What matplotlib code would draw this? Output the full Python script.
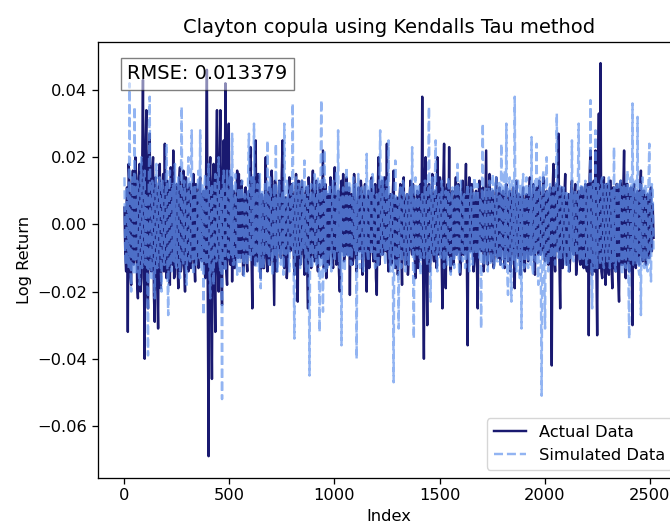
import numpy as np
import matplotlib
matplotlib.use("Agg")
import matplotlib.pyplot as plt

# ---- data (log returns in per-mille, one reading every ~4 days) ----
n_days = 2520
rmse_value = 0.013379

actual_permille = [
    5, -9, -14, 11, -32, 18, 12, -15, -18, 8, 16, -12, -10, 20, 14, -17, -22, 13, 18, -20, -16, 15, 43, -11, -40, 22, 34, -18, -25, 19,
    27, -13, -14, 16, 20, -21, -29, 14, 10, -16, -31, 12, 18, -19, -12, 10, 15, -14, 24, -11, -16, 13, 10, -15, -18, 17, 14, -12, 22, -16,
    -15, 11, 12, -10, -19, 13, 17, -14, -12, 9, 16, -12, -20, 14, 10, -11, -14, 12, 12, -13, -10, 9, 15, -11, -17, 12, 9, -10, -13, 11,
    14, -10, -11, 9, 10, -12, -16, 13, 46, -18, -69, 15, 20, -16, -46, 12, 18, -14, -32, 16, 34, -12, -20, 18, 34, -15, -24, 14, 25, -13,
    42, -14, -18, 12, 30, -10, -12, 14, -17, 8, 10, -13, -12, 7, 16, -10, 15, -8, -10, 13, 9, -15, -12, 8, 11, -10, -14, 8, 10, -9,
    23, -8, -25, 14, 9, -12, 25, -9, -11, 15, 12, -10, -16, 9, 8, -13, -13, 7, 20, -9, -14, 8, 11, -12, -8, 16, 10, -8, -24, 13,
    11, -14, -8, 7, 13, -8, -10, 15, 25, -7, -13, 8, 8, -16, -11, 7, 14, -8, -7, 12, 9, -7, -15, 8, 15, -9, -23, 13, 10, -12,
    -9, 13, 8, -8, -15, 9, 11, -7, -25, 14, 9, -9, -13, 7, 16, -8, -11, 9, 13, -7, -14, 8, 12, -9, -10, 7, 22, -13, -9, 12,
    -16, 8, 9, -12, -8, 14, 11, -8, -13, 7, 17, -9, -12, 8, 10, -14, -20, 9, 13, -8, 15, -11, -9, 8, 14, -9, -8, 11, -21, 8,
    9, -12, -10, 15, 8, -9, -14, 7, 11, -8, -8, 13, 10, -15, -9, 8, 12, -9, -20, 7, 10, -13, -8, 9, 14, -7, -11, 8, 12, -16,
    -21, 8, 20, -12, -9, 8, 13, -9, -8, 14, 11, -8, 24, -9, -14, 8, 9, -12, -11, 9, 16, -8, -13, 7, 8, -15, -10, 8, 12, -7,
    -18, 9, 14, -8, -12, 7, 9, -15, -10, 8, 13, -7, -9, 12, 8, -9, -16, 7, 10, -13, -9, 9, 12, -10, 38, -12, -40, 14, 20, -11,
    -30, 10, 12, -14, -10, 8, 15, -8, -11, 9, 10, -13, 20, -8, -9, 14, 11, -9, -25, 12, 24, -11, -19, 10, 12, -9, 23, -10, -14, 9,
    10, -12, -9, 7, 14, -9, -8, 12, 9, -15, -11, 8, 13, -9, -9, 7, 18, -10, -36, 9, 14, -8, -8, 12, 9, -14, -11, 8, 10, -12,
    -25, 8, 13, -7, -8, 9, 11, -14, -10, 7, 22, -9, -12, 8, 15, -7, -11, 9, 10, -13, -9, 7, 14, -9, -10, 8, 11, -12, -9, 8,
    10, -7, -13, 9, 12, -8, -11, 7, 10, -14, -9, 8, 11, -8, -19, 7, 13, -8, -10, 9, 8, -15, -9, 8, 11, -9, -14, 7, 9, -8,
    -11, 8, 14, -9, -9, 7, 12, -8, -15, 9, 11, -7, -9, 13, 10, -9, -8, 7, 14, -8, -11, 9, 10, -10, -12, 9, 11, -12, -42, 10,
    18, -9, -14, 11, 12, -8, 27, -10, -25, 9, 11, -13, -9, 8, 15, -10, -12, 8, 9, -14, -10, 10, 13, -8, -9, 9, 12, -15, -11, 9,
    10, -10, -12, 11, 11, -12, -13, 10, 12, -13, -14, 12, -33, 14, 22, -12, -15, 11, 13, -14, 22, -12, -33, 15, 33, -13, 48, -14, -16, 12,
    14, -13, -18, 12, 12, -14, -15, 13, 13, -12, -19, 11, 11, -13, -14, 12, 12, -16, -23, 11, 13, -12, -12, 10, 22, -13, -16, 12, 12, -11,
    -14, 10, 11, -12, -30, 11, 12, -10, -13, 9, 10, -11, -12, 10, 16, -9, -11, 10, 10, -9, -12, 8, 9, -10, -10, 9, 11, -8, 6, -4,
]

simulated_permille = [
    14, -10, -12, 11, 8, -13, 42, -12, -20, 14, 10, -15, 35, -11, -15, 13, 12, -14, -18, 12, 20, -13, -10, 14, 16, -12, 9, -13, -39, 12,
    38, -12, -16, 13, 12, -14, -22, 11, 18, -13, -10, 12, 14, -11, -20, 13, 9, -12, -12, 10, 24, -12, -27, 11, 16, -13, -14, 12, 12, -11,
    18, -12, -13, 11, 14, -12, -16, 10, 35, -11, -12, 13, 10, -12, -18, 11, 20, -10, -11, 12, 28, -11, -15, 10, 12, -12, -9, 11, 16, -10,
    28, -11, -14, 12, -27, 11, 15, -12, -12, 10, 18, -13, -22, 11, 12, -12, -18, 10, 15, -11, -10, 12, 20, -11, -14, 10, -52, 12, 16, -10,
    -14, 9, 16, -8, -10, 13, 16, -9, 27, -12, -12, 9, 15, -10, -15, 8, 11, -14, -8, 12, 13, -8, -16, 9, 8, -12, -12, 14, 27, -9,
    -11, 14, 13, -9, 30, -8, -13, 7, 12, -9, -14, 15, -19, 9, 10, -13, -8, 12, 11, -9, 25, -8, -12, 14, 9, -7, -15, 8, 12, -9,
    24, -8, -14, 9, 13, -7, -12, 8, 10, -15, 30, -8, -9, 13, 11, -8, -14, 9, 12, -7, 36, -9, -34, 8, 14, -9, -9, 12, 12, -13,
    -11, 13, 9, -7, 19, -8, -14, 9, 12, -9, -45, 8, 12, -13, -9, 8, 15, -9, -12, 7, 14, -8, -32, 9, 37, -8, -26, 9, 22, -14,
    10, -13, -9, 7, 12, -9, -14, 8, 13, -7, -11, 9, 16, -8, 28, -9, -13, 8, -36, 7, 11, -9, -14, 7, 17, -8, -10, 13, 9, -12,
    -12, 9, 14, -8, -8, 12, -40, 8, 15, -9, -13, 8, 11, -7, -14, 9, 12, -8, 21, -9, -11, 8, 13, -7, -9, 15, 12, -8, -13, 7,
    9, -13, -11, 9, 28, -9, -9, 14, 10, -7, -12, 9, 13, -8, 25, -9, -14, 7, 9, -8, -47, 9, 19, -8, -12, 7, -31, 9, 11, -13,
    -9, 13, 12, -9, -14, 7, 9, -8, -12, 9, 11, -7, 23, -9, -34, 8, 14, -7, -9, 12, 12, -9, -15, 8, 9, -7, -10, 13, 13, -8,
    -12, 9, 35, -8, -23, 9, 14, -8, -9, 12, 25, -9, -14, 8, 9, -7, -10, 13, 12, -8, -13, 7, 10, -9, -12, 14, 9, -7, -15, 8,
    11, -8, -13, 7, 12, -9, 18, -7, -15, 8, 13, -9, -11, 8, 9, -13, -10, 9, 12, -8, -14, 7, 11, -9, -12, 8, 14, -7, -9, 12,
    12, -9, -10, 8, -31, 9, 30, -11, -12, 10, 11, -12, -14, 11, 13, -12, -10, 11, 15, -13, -12, 12, 14, -11, -11, 13, 12, -12, 24, -11,
    -13, 12, 16, -12, 30, -13, -21, 11, 14, -12, -23, 13, 12, -11, 38, -12, -14, 13, 13, -14, -16, 12, -31, 11, 15, -13, -12, 12, 14, -12,
    -13, 11, 12, -12, 26, -13, -15, 12, 13, -11, 24, -12, -18, 13, 14, -14, -51, 12, 16, -13, -31, 11, 20, -12, -14, 11, 12, -10, -10, 9,
    11, -9, -12, 10, 33, -9, -10, 8, 12, -10, -9, 9, 11, -8, -12, 10, 10, -9, -14, 8, 9, -10, 25, -9, -11, 8, 10, -9, -9, 10,
    30, -10, -11, 12, 12, -11, -10, 10, 13, -12, -12, 11, 11, -10, 37, -11, -25, 12, 12, -13, 28, -11, -13, 12, 11, -10, -12, 13, 14, -11,
    -13, 11, 12, -10, -11, 12, 14, -13, -12, 10, 10, -11, 23, -12, -14, 11, 12, -10, -11, 12, 13, -14, -15, 11, 12, -12, -13, 13, 16, -11,
    -34, 12, 14, -11, 36, -12, -12, 11, 13, -12, 32, -13, -15, 12, -27, 11, 14, -12, -13, 11, 12, -13, -14, 12, 24, -11, -17, 12, 10, -8,
]

actual = np.array(actual_permille) / 1000.0
simulated = np.array(simulated_permille) / 1000.0
index_actual = np.linspace(0, n_days - 1, len(actual))
index_simulated = np.linspace(0, n_days - 1, len(simulated))

# ---- figure ----
s = 1.17
plt.rcParams.update({
    "font.family": "DejaVu Sans",
    "font.size": 10 * s,
    "axes.linewidth": 0.8 * s,
    "xtick.major.size": 3.5 * s,
    "ytick.major.size": 3.5 * s,
    "xtick.major.width": 0.8 * s,
    "ytick.major.width": 0.8 * s,
})

fig = plt.figure(figsize=(6.7, 5.25), dpi=100)
ax = fig.add_axes([98 / 670, (525 - 477.7) / 525, 582 / 670, 435.4 / 525])

ax.plot(index_actual, actual, color="midnightblue", linewidth=1.5 * s, label="Actual Data")
ax.plot(index_simulated, simulated, color="cornflowerblue", linestyle="--", linewidth=1.5 * s,
        alpha=0.7, label="Simulated Data")

ax.set_xlim(-126, 2645)
ax.set_ylim(-0.0754, 0.0542)
ax.set_xticks([0, 500, 1000, 1500, 2000, 2500])
ax.set_yticks([-0.06, -0.04, -0.02, 0.00, 0.02, 0.04])
ax.set_yticklabels(["\u22120.06", "\u22120.04", "\u22120.02", "0.00", "0.02", "0.04"])

ax.set_title("Clayton copula using Kendalls Tau method", fontsize=12 * s, pad=6 * s)
ax.set_xlabel("Index", fontsize=10 * s)
ax.set_ylabel("Log Return", fontsize=10 * s)

ax.text(0.05, 0.95, f"RMSE: {rmse_value:.6f}", transform=ax.transAxes,
        fontsize=12 * s, va="top",
        bbox=dict(boxstyle="square,pad=0.33", facecolor="white", alpha=0.5))

ax.legend(loc="lower right", fontsize=10 * s)

fig.savefig("out.png", dpi=100)
